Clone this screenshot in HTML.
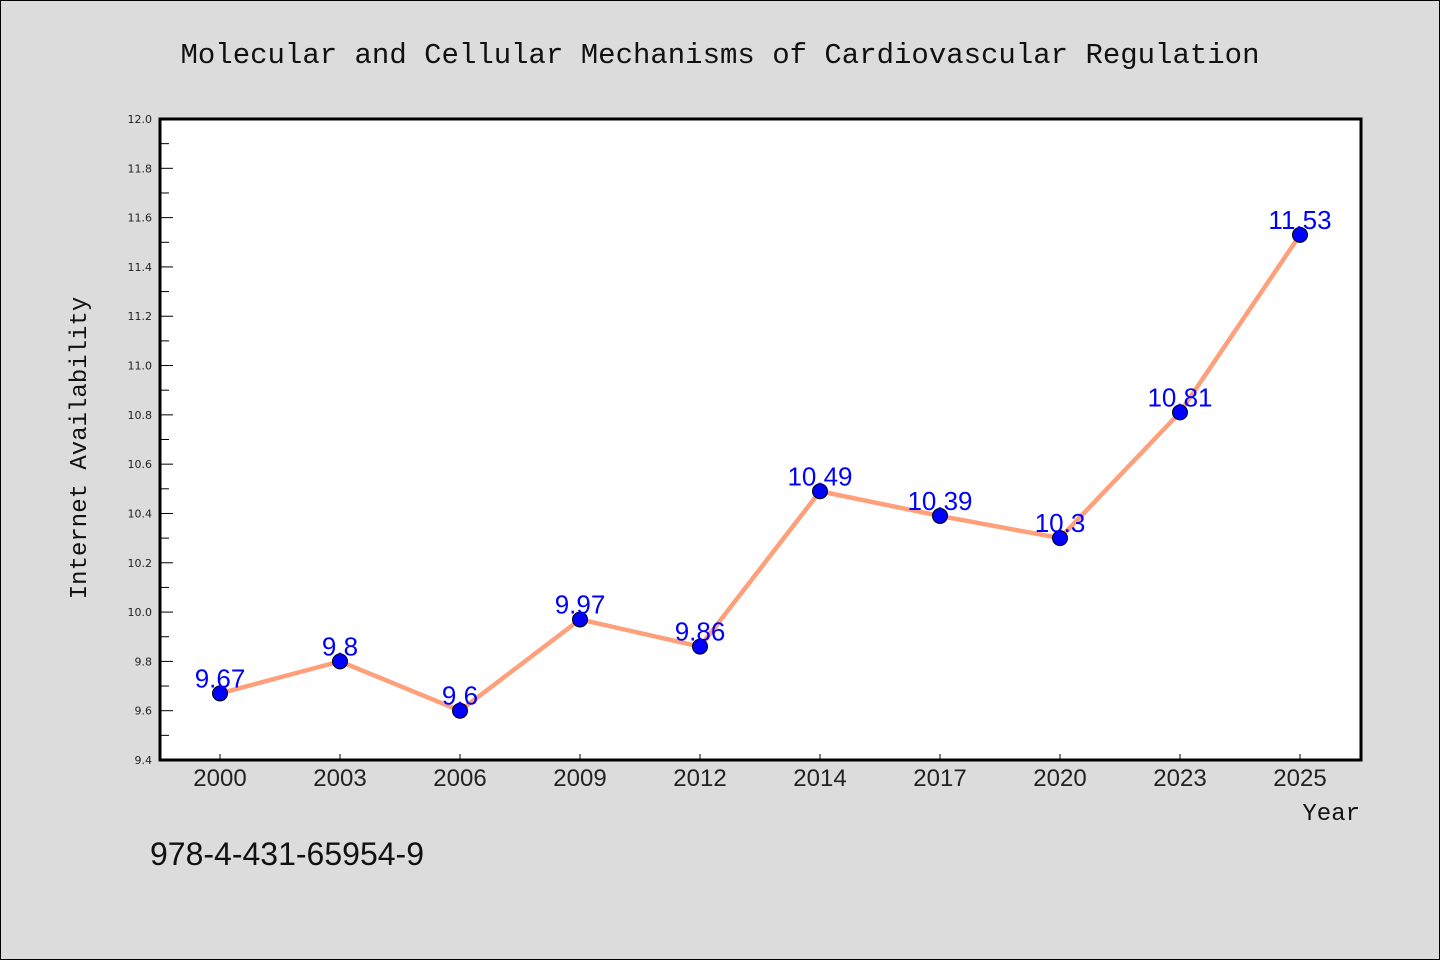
<!DOCTYPE html>
<html><head><meta charset="utf-8"><style>
body{margin:0;background:#dcdcdc;}
svg{display:block;font-family:"WenQuanYi Zen Hei","Liberation Sans",sans-serif;}
</style></head><body>
<svg id="c" width="1440" height="960">
<rect x="0.5" y="0.5" width="1439" height="959" fill="#dcdcdc" stroke="#000"/>
<text x="720" y="63" text-anchor="middle" font-size="29" font-family="Liberation Mono, monospace" fill="#111">Molecular and Cellular Mechanisms of Cardiovascular Regulation</text>
<rect x="160" y="119" width="1201" height="641" fill="#fff"/>
<g id="g"></g>
<rect x="160" y="119" width="1201" height="641" fill="none" stroke="#000" stroke-width="3"/>
<text x="86" y="448" transform="rotate(-90 86 448)" text-anchor="middle" font-size="24" font-family="Liberation Mono, monospace" fill="#111">Internet Availability</text>
<text x="1360" y="820" text-anchor="end" font-size="24" font-family="Liberation Mono, monospace" fill="#111">Year</text>
<text x="150" y="865" font-size="32" fill="#111">978-4-431-65954-9</text>
</svg>
<script>
const categories=["2000","2003","2006","2009","2012","2014","2017","2020","2023","2025"];
const values=[9.67,9.8,9.6,9.97,9.86,10.49,10.39,10.3,10.81,11.53];
const yTicks=["9.4","9.6","9.8","10.0","10.2","10.4","10.6","10.8","11.0","11.2","11.4","11.6","11.8","12.0"];
const NS="http://www.w3.org/2000/svg",g=document.getElementById('g');
const yMin=9.4,yMax=12.0,top_=119,bot=760;
const y=v=>bot-(v-yMin)/(yMax-yMin)*(bot-top_);
const x=i=>220+i*120;
function mk(t,a){const e=document.createElementNS(NS,t);for(const k in a)e.setAttribute(k,a[k]);g.appendChild(e);return e;}
yTicks.forEach(t=>{const v=parseFloat(t);
 const l=mk('line',{x1:160,x2:173,y1:y(v),y2:y(v),stroke:'#000','stroke-width':1});
 
 
 const tx=mk('text',{x:152,y:y(v)+4,'text-anchor':'end','font-size':11,'font-family':'DejaVu Sans, sans-serif',fill:'#222'});tx.textContent=t;
 
 
 if(v<yMax){const m=mk('line',{x1:160,x2:169,y1:y(v+0.1),y2:y(v+0.1),stroke:'#000','stroke-width':1});
 
 }
});
categories.forEach((c,i)=>{
 const l=mk('line',{x1:x(i),x2:x(i),y1:754,y2:760,stroke:'#000'});
 
 
 const t=mk('text',{x:x(i),y:786,'text-anchor':'middle','font-size':24,fill:'#222'});t.textContent=c;
 
 
});
const p=mk('polyline',{points:values.map((v,i)=>x(i)+','+y(v)).join(' '),fill:'none',stroke:'#ffa07a','stroke-width':4.5});


values.forEach((v,i)=>{
 const c=mk('circle',{cx:x(i),cy:y(v),r:7.5,fill:'#0000ff',stroke:'#000','stroke-width':1});
 
 
 const t=mk('text',{x:x(i),y:y(v)-6,'text-anchor':'middle','font-size':26,fill:'#0000ff'});t.textContent=String(v);
 
 
});
</script>
</body></html>
